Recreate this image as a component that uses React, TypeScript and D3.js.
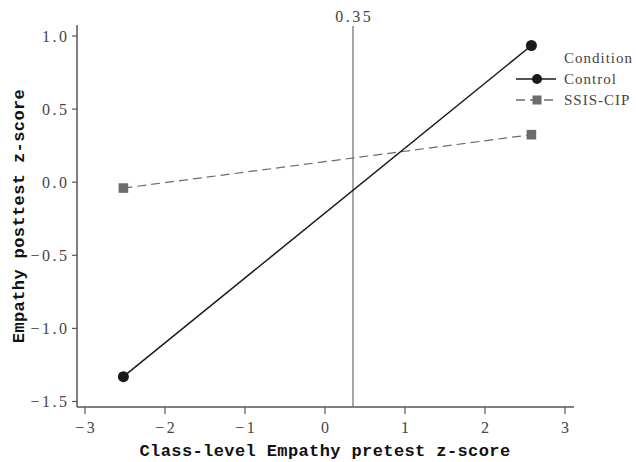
import React from "react";
import * as d3 from "d3";

const conditions = ["Control", "SSIS-CIP"];
const xPre = [-2.52, 2.58];
const controlY = [-1.33, 0.935];
const ssisY = [-0.04, 0.325];
const xTicks = [-3, -2, -1, 0, 1, 2, 3];
const yTicks = [-1.5, -1.0, -0.5, 0.0, 0.5, 1.0];
const refLine = 0.35;

const W = 636;
const H = 462;
const MONO = "'Liberation Mono', 'DejaVu Sans Mono', monospace";
const SERIF = "'Liberation Serif', 'DejaVu Serif', serif";

export default function App() {
  const x = d3.scaleLinear().domain([-3, 3]).range([85, 565]);
  const y = d3.scaleLinear().domain([-1.5, 1.0]).range([401.5, 36]);
  const axisX0 = 77;
  const axisY0 = 407;
  const line = d3
    .line<[number, number]>()
    .x((d) => x(d[0]))
    .y((d) => y(d[1]));
  const ctrlPts: [number, number][] = xPre.map((v, i) => [v, controlY[i]]);
  const ssisPts: [number, number][] = xPre.map((v, i) => [v, ssisY[i]]);
  const fmtY = d3.format(".1f");
  const ctrlColor = "#1a1a1a";
  const ssisColor = "#6b6b70";
  const axisColor = "#555";
  const tickLS = 2.5;

  return (
    <svg
      width={W}
      height={H}
      style={{ position: "absolute", left: 0, top: 0, background: "#fff" }}
      fontFamily={SERIF}
    >
      {/* axes */}
      <line x1={axisX0} x2={axisX0} y1={25} y2={axisY0} stroke={axisColor} strokeWidth={1.5} />
      <line x1={axisX0} x2={574} y1={axisY0} y2={axisY0} stroke={axisColor} strokeWidth={1.5} />
      {yTicks.map((t) => (
        <g key={"y" + t}>
          <line x1={axisX0 - 5} x2={axisX0} y1={y(t)} y2={y(t)} stroke={axisColor} strokeWidth={1.2} />
          <text
            x={67 + tickLS}
            y={y(t)}
            dy="0.35em"
            textAnchor="end"
            fontSize={16}
            letterSpacing={tickLS}
            fill="#444"
          >
            {fmtY(t)}
          </text>
        </g>
      ))}
      {xTicks.map((t) => (
        <g key={"x" + t}>
          <line x1={x(t)} x2={x(t)} y1={axisY0} y2={axisY0 + 7} stroke={axisColor} strokeWidth={1.2} />
          <text x={x(t) + tickLS / 2} y={433} textAnchor="middle" fontSize={16} letterSpacing={tickLS} fill="#444">
            {d3.format("d")(t).replace("-", "\u2212")}
          </text>
        </g>
      ))}
      {/* reference line */}
      <line x1={x(refLine)} x2={x(refLine)} y1={26} y2={axisY0} stroke="#777" strokeWidth={1.3} />
      <text x={x(refLine) + tickLS / 2} y={22} textAnchor="middle" fontSize={16} letterSpacing={tickLS} fill="#444">
        {refLine.toFixed(2)}
      </text>
      {/* series */}
      <path d={line(ssisPts) || ""} fill="none" stroke={ssisColor} strokeWidth={1.2} strokeDasharray="9,5" />
      <path d={line(ctrlPts) || ""} fill="none" stroke={ctrlColor} strokeWidth={1.5} />
      {ctrlPts.map((p, i) => (
        <circle key={"c" + i} cx={x(p[0])} cy={y(p[1])} r={5.5} fill={ctrlColor} />
      ))}
      {ssisPts.map((p, i) => (
        <rect key={"s" + i} x={x(p[0]) - 4.8} y={y(p[1]) - 4.8} width={9.6} height={9.6} fill={ssisColor} />
      ))}
      {/* legend */}
      <text x={564} y={58} dy="0.35em" fontSize={15} letterSpacing={1} fill="#444">Condition</text>
      {conditions.map((c, i) => {
        const ly = 79 + i * 21;
        return (
          <g key={c}>
            <line
              x1={516}
              x2={556}
              y1={ly}
              y2={ly}
              stroke={i === 0 ? ctrlColor : ssisColor}
              strokeWidth={1.4}
              strokeDasharray={i === 0 ? undefined : "9,5"}
            />
            {i === 0 ? (
              <circle cx={537} cy={ly} r={5} fill={ctrlColor} />
            ) : (
              <rect x={532.5} y={ly - 4.5} width={9} height={9} fill={ssisColor} />
            )}
            <text x={564} y={ly} dy="0.35em" fontSize={15} letterSpacing={1} fill="#444">
              {c}
            </text>
          </g>
        );
      })}
      {/* axis titles */}
      <text
        x={325}
        y={456}
        textAnchor="middle"
        fontSize={17}
        fontWeight="bold"
        letterSpacing={0.4}
        fontFamily={MONO}
        fill="#111"
      >
        Class-level Empathy pretest z-score
      </text>
      <text
        transform={`translate(24,216) rotate(-90)`}
        textAnchor="middle"
        fontSize={17}
        fontWeight="bold"
        letterSpacing={0.4}
        fontFamily={MONO}
        fill="#111"
      >
        Empathy posttest z-score
      </text>
    </svg>
  );
}
